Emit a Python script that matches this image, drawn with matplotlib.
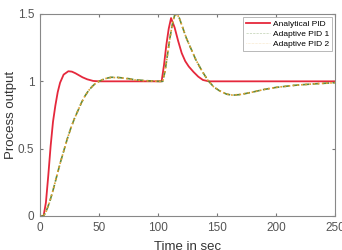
import matplotlib
matplotlib.use("Agg")
import matplotlib.pyplot as plt

plt.rcParams['font.family'] = ['Liberation Sans', 'DejaVu Sans']

# Analytical PID response
t_ana = [0, 3, 5, 7, 9, 11, 13, 15, 17, 20, 24, 27, 30, 33, 36, 40, 45, 50, 60, 80, 100,
         103, 105, 107, 109, 111, 114, 117, 120, 123, 126, 130, 134, 138, 143, 150, 170, 200, 250]
y_ana = [0, 0, 0.1, 0.3, 0.52, 0.7, 0.82, 0.92, 0.99, 1.05, 1.075, 1.072, 1.06, 1.045, 1.03, 1.015, 1.003, 1.0, 1.0, 1.0, 1.0,
         1.0, 1.12, 1.27, 1.39, 1.47, 1.40, 1.30, 1.21, 1.15, 1.11, 1.07, 1.035, 1.01, 1.0, 1.0, 1.0, 1.0, 1.0]

# Adaptive PID responses
t_ad = [0, 3, 5, 8, 11, 14, 17, 20, 23, 26, 29, 32, 35, 38, 41, 44, 47, 50, 55, 60, 65, 70, 75, 80, 90, 100,
        104, 106, 108, 110, 112, 114, 116, 118, 120, 124, 128, 132, 137, 142, 147, 152, 158, 163, 170, 180,
        190, 200, 215, 230, 250]
y_ad1 = [0, 0, 0.03, 0.1, 0.19, 0.29, 0.39, 0.48, 0.57, 0.65, 0.72, 0.78, 0.84, 0.89, 0.93, 0.96, 0.985, 1.0,
         1.02, 1.03, 1.03, 1.025, 1.02, 1.012, 1.005, 1.0,
         1.0, 1.08, 1.2, 1.32, 1.42, 1.49, 1.5, 1.47, 1.42, 1.32, 1.24, 1.16, 1.08, 1.01, 0.96, 0.93, 0.905, 0.897,
         0.902, 0.92, 0.94, 0.955, 0.97, 0.98, 0.99]
y_ad2 = [0, 0, 0.03, 0.1, 0.19, 0.29, 0.39, 0.48, 0.57, 0.65, 0.72, 0.78, 0.84, 0.89, 0.93, 0.96, 0.985, 1.0,
         1.02, 1.028, 1.028, 1.024, 1.018, 1.01, 1.004, 1.0,
         1.0, 1.08, 1.2, 1.32, 1.42, 1.49, 1.5, 1.47, 1.42, 1.32, 1.24, 1.16, 1.08, 1.01, 0.96, 0.93, 0.905, 0.898,
         0.903, 0.92, 0.94, 0.955, 0.97, 0.98, 0.99]

fig = plt.figure(figsize=(3.42, 2.5), dpi=100)
ax = fig.add_axes([0.117, 0.136, 0.863, 0.808])
ax.plot(t_ana, y_ana, color="#e5283c", lw=1.3, label="Analytical PID")
ax.plot(t_ad, y_ad1, color="#5e8a3c", lw=1.2, ls=(0, (4, 2)), label="Adaptive PID 1")
ax.plot(t_ad, y_ad2, color="#e0a030", lw=1.2, ls=(0, (1, 1.5)), label="Adaptive PID 2")

ax.set_xlim(0, 250)
ax.set_ylim(0, 1.5)
ax.set_xticks([0, 50, 100, 150, 200, 250])
ax.set_yticks([0, 0.5, 1, 1.5])
ax.set_yticklabels(["0", "0.5", "1", "1.5"])
ax.tick_params(direction="in", top=True, right=True, length=2.5, labelsize=8.5,
               colors="#777777", labelcolor="#555555", pad=4)
for s in ax.spines.values():
    s.set_color("#888888")
    s.set_linewidth(0.8)
ax.set_xlabel("Time in sec", fontsize=9.5, color="#333333", labelpad=5)
ax.set_ylabel("Process output", fontsize=9.5, color="#333333", labelpad=1)

leg = ax.legend(loc="upper right", fontsize=6, frameon=True, fancybox=False,
                edgecolor="#999999", handlelength=2.8, handletextpad=0.4,
                borderpad=0.35, labelspacing=0.3, borderaxespad=0.35)
leg.get_frame().set_linewidth(0.6)
lines = leg.get_lines()
lines[1].set_linewidth(0.4)
lines[1].set_alpha(0.5)
lines[2].set_linewidth(0.4)
lines[2].set_alpha(0.5)

fig.savefig("out.png", dpi=100)
